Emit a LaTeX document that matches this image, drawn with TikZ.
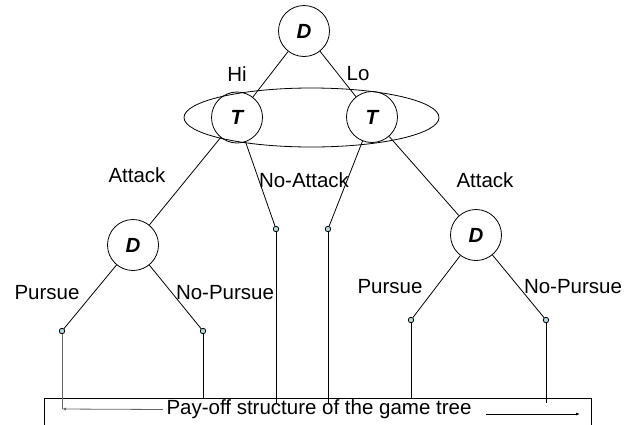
\documentclass[tikz,border=0pt]{standalone}
\usepackage{fontspec}
\setmainfont{Liberation Sans}
\usetikzlibrary{shapes.geometric,arrows.meta}

\definecolor{leafblue}{RGB}{175,218,220}
\newcommand{\labelsize}{\fontsize{20.5}{24}\selectfont}

\tikzset{
  state/.style={draw, circle, minimum size=51pt, inner sep=0pt,
    font=\labelsize\bfseries\itshape},
  leaf/.style={draw, circle, fill=leafblue, minimum size=5.5pt, inner sep=0pt},
}

\begin{document}
\begin{tikzpicture}[x=1pt, y=-1pt, font=\labelsize, line width=0.8pt]
			\useasboundingbox (0,0) rectangle (624,424);

			% Draw the information set round the two T nodes
			\node[draw, ellipse, minimum width=255pt, minimum height=59pt, inner sep=0pt] (infoset) at (311.5,117.5) {};

			% Draw the decision nodes
			\node[state] (dTop) at (304,31) {D};
			\node[state] (tHi) at (237,117.5) {T};
			\node[state] (tLo) at (372,117) {T};
			\node[state] (dLeft) at (133,245) {D};
			\node[state] (dRight) at (476,235) {D};

			% Draw the end points
			\node[leaf] (pursueA) at (62,331) {};
			\node[leaf] (noPursueA) at (203,331) {};
			\node[leaf] (noAttackHi) at (276,229) {};
			\node[leaf] (noAttackLo) at (328,229) {};
			\node[leaf] (pursueB) at (411,320) {};
			\node[leaf] (noPursueB) at (546,320) {};

			% Draw the branches
			\draw (dTop) -- (tHi);
			\draw (dTop) -- (tLo);
			\draw (tHi) -- (dLeft);
			\draw (tHi) -- (noAttackHi);
			\draw (tLo) -- (noAttackLo);
			\draw (tLo) -- (dRight);
			\draw (dLeft) -- (pursueA);
			\draw (dLeft) -- (noPursueA);
			\draw (dRight) -- (pursueB);
			\draw (dRight) -- (noPursueB);

			% Branch labels
			\node (hi) at (237,74) {Hi};
			\node (lo) at (358,74) {Lo};
			\node (attackA) at (137,175) {Attack};
			\node (noAttack) at (304,180) {No-Attack};
			\node (attackB) at (485,180) {Attack};
			\node (pursueLblA) at (47,293) {Pursue};
			\node (noPursueLblA) at (225,293) {No-Pursue};
			\node (pursueLblB) at (390,287) {Pursue};
			\node (noPursueLblB) at (573,287) {No-Pursue};

			% Pay-off box at the bottom
			\draw (44,430) |- (591,398) -- (591,430);
			\node (payoff) at (319,409.5) {Pay-off structure of the game tree};
			\coordinate (leftEnd) at (62,409);
			\coordinate (rightStart) at (486,414);
			\coordinate (rightEnd) at (580,414);

			% Drop lines from the end points
			\draw[black!60] (pursueA) -- (leftEnd);
			\foreach \leaf/\y in {noPursueA/398, noAttackHi/404, noAttackLo/404, pursueB/398, noPursueB/403}
				\draw (\leaf) -- (\leaf |- 0,\y);

			\draw[black!60, -{Latex[length=4pt, width=3pt]}] (payoff.west) -- (leftEnd);
			\draw[-{Latex[length=4pt, width=3pt]}] (rightStart) -- (rightEnd);
		\end{tikzpicture}
\end{document}
